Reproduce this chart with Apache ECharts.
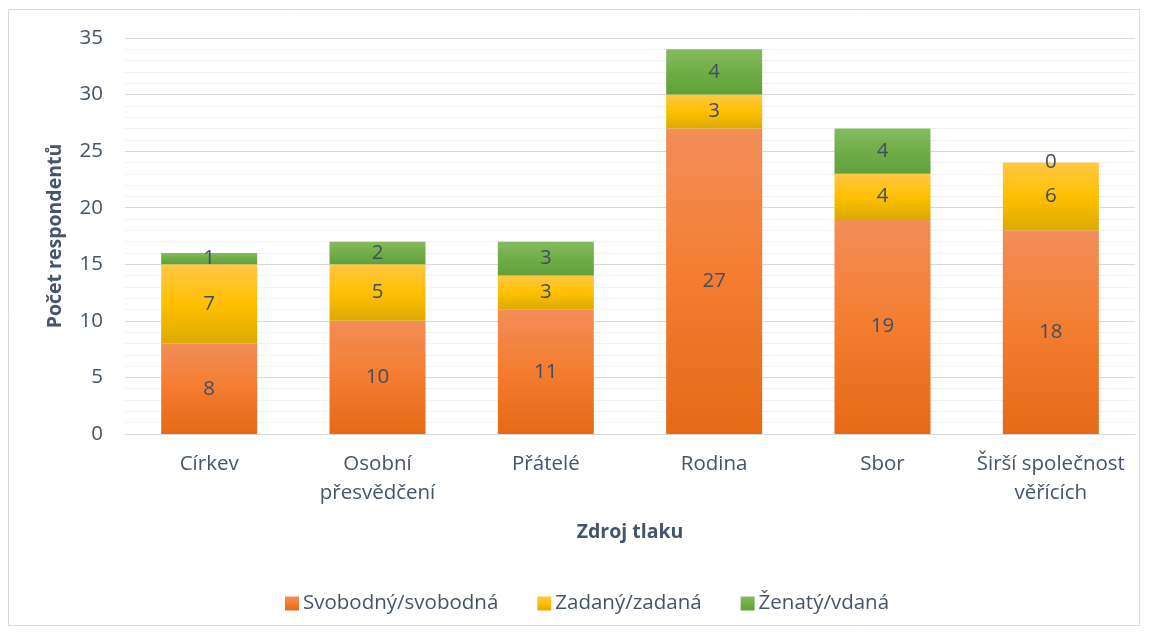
<!DOCTYPE html>
<html><head><meta charset="utf-8">
<script src="https://cdn.jsdelivr.net/npm/echarts@6/dist/echarts.min.js"></script>
<style>html,body{margin:0;padding:0;background:#fff}#c{width:1149px;height:634px}</style>
</head><body><div id="c"></div>
<script>
const categories = ['Církev', 'Osobní\npřesvědčení', 'Přátelé', 'Rodina', 'Sbor', 'Širší společnost\nvěřících'];
const svobodny = [8, 10, 11, 27, 19, 18];
const zadany = [7, 5, 3, 3, 4, 6];
const zenaty = [1, 2, 3, 4, 4, 0];
const seriesNames = ['Svobodný/svobodná', 'Zadaný/zadaná', 'Ženatý/vdaná'];
const yTicks = [0, 5, 10, 15, 20, 25, 30, 35];

const FONT = '"Open Sans", Lato, sans-serif';
const TXT = '#44546A';
const FS = 20.5;
function grad(top, mid, bot) {
  return new echarts.graphic.LinearGradient(0, 0, 0, 1, [
    {offset: 0, color: top}, {offset: 0.5, color: mid}, {offset: 1, color: bot}]);
}
const fills = [
  grad('#F28E58', '#F47C30', '#E46A17'),
  grad('#FFC745', '#FFC000', '#DDAA00'),
  grad('#86BC5F', '#70AD47', '#60A03B')
];
const data = [svobodny, zadany, zenaty];
const chart = echarts.init(document.getElementById('c'));
chart.setOption({
  animation: false,
  textStyle: {fontFamily: FONT},
  graphic: [{type: 'rect', shape: {x: 8.5, y: 9.5, width: 1131, height: 616},
    style: {fill: 'none', stroke: '#D9D9D9', lineWidth: 1}, silent: true, z: -10}],
  grid: {left: 125, right: 14, top: 38, bottom: 200},
  legend: {
    bottom: 20, left: 285, itemWidth: 14, itemHeight: 14, itemGap: 39, padding: 0,
    icon: 'rect', textStyle: {fontSize: FS, color: TXT, fontFamily: FONT, padding: [0, 0, 0, -1]},
    data: seriesNames
  },
  xAxis: {
    type: 'category', data: categories,
    name: 'Zdroj tlaku', nameLocation: 'middle', nameGap: 88,
    nameTextStyle: {fontSize: 19.5, fontWeight: 'bold', color: TXT, fontFamily: FONT},
    axisLine: {lineStyle: {color: '#D9D9D9'}}, axisTick: {show: false},
    axisLabel: {interval: 0, fontSize: FS, color: TXT, margin: 16, lineHeight: 29, fontFamily: FONT}
  },
  yAxis: {
    type: 'value', min: yTicks[0], max: yTicks[yTicks.length - 1], interval: 5,
    name: 'Počet respondentů', nameLocation: 'middle', nameGap: 60,
    nameTextStyle: {fontSize: 19.5, fontWeight: 'bold', color: TXT, fontFamily: FONT},
    axisLabel: {fontSize: FS, color: TXT, margin: 22, fontFamily: FONT},
    splitLine: {lineStyle: {color: '#D9D9D9', width: 1}},
    minorTick: {show: false, splitNumber: 5},
    minorSplitLine: {show: true, lineStyle: {color: '#F2F2F2', width: 1}}
  },
  series: seriesNames.map((n, i) => ({
    name: n, type: 'bar', stack: 'total', barWidth: 96,
    data: data[i],
    itemStyle: {color: fills[i]},
    label: {show: true, position: 'inside', fontSize: FS, color: '#404F63', fontFamily: FONT}
  }))
});
</script></body></html>
